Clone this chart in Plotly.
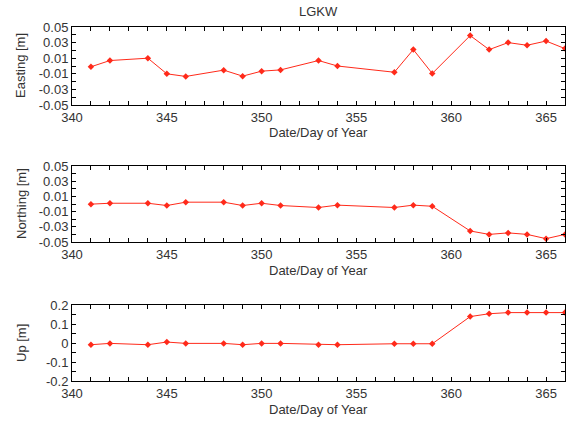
import plotly.graph_objects as go
from plotly.subplots import make_subplots

days = [341, 342, 344, 345, 346, 348, 349, 350, 351, 353, 354, 357, 358, 359, 361, 362, 363, 364, 365, 366]
easting = [-0.001, 0.007, 0.010, -0.010, -0.0134, -0.0053, -0.013, -0.0066, -0.005,
           0.007, 0.000, -0.008, 0.021, -0.0096, 0.039, 0.021, 0.030, 0.0266, 0.032, 0.0223]
northing = [-0.0002, 0.001, 0.001, -0.002, 0.0024, 0.0024, -0.002, 0.001, -0.002,
            -0.0046, -0.0015, -0.0046, -0.0015, -0.003, -0.0355, -0.040, -0.038, -0.040, -0.0456, -0.040]
up = [-0.009, -0.002, -0.009, 0.005, -0.002, -0.002, -0.009, -0.002, -0.002,
      -0.009, -0.009, -0.004, -0.004, -0.004, 0.139, 0.154, 0.160, 0.160, 0.160, 0.160]

series = [easting, northing, up]
ytitles = ["Easting [m]", "Northing [m]", "Up [m]"]
yranges = [[-0.05, 0.05], [-0.05, 0.05], [-0.2, 0.2]]
ytickvals = [[-0.05, -0.03, -0.01, 0.01, 0.03, 0.05],
             [-0.05, -0.03, -0.01, 0.01, 0.03, 0.05],
             [-0.2, -0.1, 0, 0.1, 0.2]]
yticktext = [["-0.05", "-0.03", "-0.01", "0.01", "0.03", "0.05"],
             ["-0.05", "-0.03", "-0.01", "0.01", "0.03", "0.05"],
             ["-0.2", "-0.1", "0", "0.1", "0.2"]]
yminor = [0.01, 0.01, 0.05]
xlabel = "Date/Day of Year"
title = "LGKW"

W, H = 568, 421
xdom = [72 / W, 565 / W]
panels_px = [(27, 105), (166, 242), (305, 381)]
ydoms = [[1 - b / H, 1 - t / H] for t, b in panels_px]

fig = make_subplots(rows=3, cols=1)
font_fam = "Liberation Sans, Arial, sans-serif"
txt = "#333333"
red = "#ff2a1a"

for i, s in enumerate(series):
    r = i + 1
    fig.add_trace(go.Scatter(x=days, y=s, mode="lines+markers",
                             line=dict(color=red, width=1),
                             marker=dict(symbol="diamond", size=5, color=red),
                             showlegend=False), row=r, col=1)
    fig.update_xaxes(range=[340, 366], domain=xdom, tickvals=[340, 345, 350, 355, 360, 365],
                     ticks="inside", ticklen=4, tickcolor="black", showline=True,
                     linecolor="black", linewidth=1, mirror="ticks", showgrid=False,
                     zeroline=False, automargin=False,
                     minor=dict(dtick=1, tick0=340, ticks="inside", ticklen=4, tickcolor="black", showgrid=False),
                     tickfont=dict(family=font_fam, size=13, color=txt), row=r, col=1)
    fig.update_yaxes(range=yranges[i], domain=ydoms[i], tickvals=ytickvals[i], ticktext=yticktext[i],
                     ticks="inside", ticklen=4, tickcolor="black", showline=True,
                     linecolor="black", linewidth=1, mirror="ticks", showgrid=False,
                     zeroline=False, automargin=False,
                     minor=dict(dtick=yminor[i], tick0=0, ticks="inside", ticklen=4, tickcolor="black", showgrid=False),
                     tickfont=dict(family=font_fam, size=13, color=txt), row=r, col=1)
    t, b = panels_px[i]
    fig.add_annotation(text=xlabel, xref="paper", yref="paper",
                       x=(xdom[0] + xdom[1]) / 2, y=1 - (b + 28) / H,
                       xanchor="center", yanchor="middle",
                       showarrow=False, font=dict(family=font_fam, size=13, color=txt))
    fig.add_annotation(text=ytitles[i], xref="paper", yref="paper",
                       x=21 / W, y=1 - ((t + b) / 2) / H, textangle=-90,
                       xanchor="center", yanchor="middle",
                       showarrow=False, font=dict(family=font_fam, size=13, color=txt))

fig.add_annotation(text=title, xref="paper", yref="paper",
                   x=(xdom[0] + xdom[1]) / 2, y=1 - 12 / H, showarrow=False,
                   xanchor="center", yanchor="middle",
                   font=dict(family=font_fam, size=13, color=txt))

fig.update_layout(width=W, height=H, margin=dict(l=0, r=0, t=0, b=0),
                  paper_bgcolor="white", plot_bgcolor="white")
fig.write_html("out.html")
